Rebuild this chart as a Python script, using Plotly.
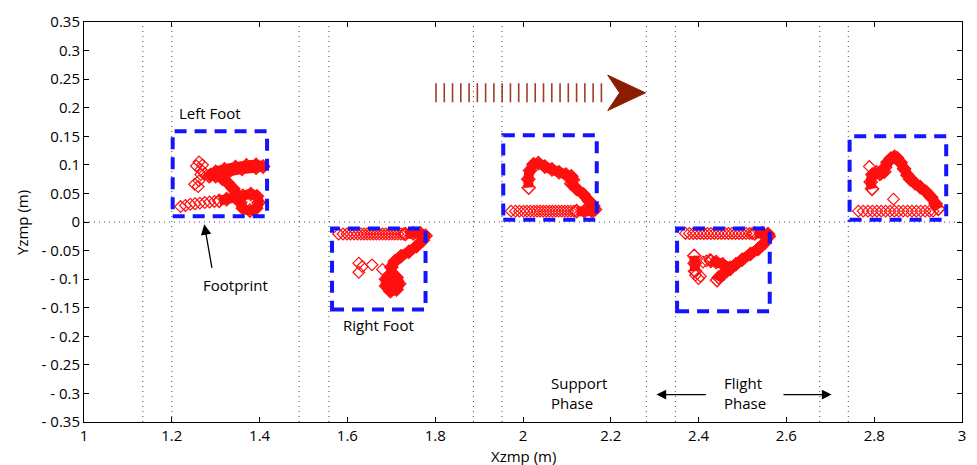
import plotly.graph_objects as go

# ---------------- data ----------------
x_ticks = [1, 1.2, 1.4, 1.6, 1.8, 2, 2.2, 2.4, 2.6, 2.8, 3]
x_tick_text = ["1", "1.2", "1.4", "1.6", "1.8", "2", "2.2", "2.4", "2.6", "2.8", "3"]
y_ticks = [0.35, 0.3, 0.25, 0.2, 0.15, 0.1, 0.05, 0, -0.05, -0.1, -0.15, -0.2, -0.25, -0.3, -0.35]
y_tick_text = ["0.35", "0.3", "0.25", "0.2", "0.15", "0.1", "0.05", "0",
               "- 0.05", "- 0.1", "- 0.15", "- 0.2", "- 0.25", "- 0.3", "- 0.35"]

phase_lines_x = [1.134, 1.200, 1.490, 1.558, 1.887, 1.952, 2.281, 2.347, 2.676, 2.741]

# footprint boxes: x0, x1, y0, y1
box_x0 = [1.202, 1.565, 1.955, 2.351, 2.744]
box_x1 = [1.417, 1.778, 2.168, 2.562, 2.964]
box_y0 = [0.010, -0.153, 0.004, -0.156, 0.004]
box_y1 = [0.159, -0.0115, 0.152, -0.0115, 0.150]

# ZMP traces - dense (thick) parts
lf1_x = [1.308, 1.325, 1.345, 1.362, 1.380, 1.394, 1.398, 1.392, 1.378, 1.362, 1.356, 1.350,
         1.340, 1.328, 1.315, 1.300, 1.288, 1.300, 1.320, 1.345, 1.370, 1.392, 1.408, 1.392,
         1.360, 1.330, 1.300, 1.285]
lf1_y = [0.037, 0.040, 0.043, 0.046, 0.049, 0.045, 0.034, 0.024, 0.020, 0.024, 0.034, 0.046,
         0.058, 0.068, 0.076, 0.080, 0.082, 0.088, 0.092, 0.096, 0.099, 0.100, 0.097, 0.095,
         0.093, 0.088, 0.083, 0.080]
lf1_dx = [1.220, 1.231, 1.242, 1.253, 1.264, 1.275, 1.286, 1.297, 1.262, 1.270, 1.266, 1.256,
          1.266, 1.275, 1.262, 1.252, 1.260]
lf1_dy = [0.027, 0.029, 0.031, 0.032, 0.033, 0.034, 0.035, 0.036, 0.105, 0.100, 0.092, 0.098,
          0.083, 0.085, 0.072, 0.066, 0.062]

rf1_x = [1.732, 1.750, 1.766, 1.778, 1.772, 1.758, 1.740, 1.722, 1.708, 1.700, 1.702, 1.712,
         1.718, 1.712, 1.698, 1.688, 1.688, 1.698, 1.708, 1.705]
rf1_y = [-0.021, -0.020, -0.020, -0.024, -0.032, -0.042, -0.052, -0.060, -0.069, -0.079, -0.090,
         -0.097, -0.108, -0.118, -0.121, -0.112, -0.100, -0.092, -0.100, -0.112]
rf1_dx = [1.580, 1.590, 1.599, 1.607, 1.615, 1.623, 1.631, 1.638, 1.645, 1.652, 1.659, 1.666,
          1.673, 1.680, 1.687, 1.694, 1.701, 1.708, 1.715, 1.722, 1.728,
          1.626, 1.634, 1.626, 1.656, 1.680]
rf1_dy = [-0.021, -0.021, -0.021, -0.021, -0.021, -0.021, -0.021, -0.021, -0.021, -0.021, -0.021,
          -0.021, -0.021, -0.021, -0.021, -0.021, -0.021, -0.021, -0.021, -0.021, -0.021,
          -0.072, -0.078, -0.088, -0.075, -0.083]

lf2_x = [2.013, 2.012, 2.016, 2.024, 2.035, 2.050, 2.066, 2.082, 2.098, 2.110, 2.114, 2.110,
         2.122, 2.138, 2.150, 2.160, 2.164, 2.158, 2.140, 2.122]
lf2_y = [0.060, 0.075, 0.090, 0.101, 0.103, 0.097, 0.092, 0.087, 0.083, 0.080, 0.074, 0.067,
         0.058, 0.048, 0.037, 0.028, 0.022, 0.019, 0.019, 0.019]
lf2_dx = [1.973, 1.983, 1.992, 2.001, 2.009, 2.017, 2.025, 2.032, 2.039, 2.046, 2.053, 2.060,
          2.067, 2.074, 2.081, 2.088, 2.095, 2.102, 2.109, 2.116]
lf2_dy = [0.019, 0.019, 0.019, 0.019, 0.019, 0.019, 0.019, 0.019, 0.019, 0.019, 0.019, 0.019,
          0.019, 0.019, 0.019, 0.019, 0.019, 0.019, 0.019, 0.019]

rf2_x = [2.528, 2.545, 2.558, 2.560, 2.551, 2.536, 2.518, 2.499, 2.485, 2.472, 2.458, 2.446,
         2.442, None, 2.472, 2.455, 2.440, 2.428, None, 2.390, 2.391, 2.392]
rf2_y = [-0.020, -0.020, -0.021, -0.025, -0.036, -0.047, -0.056, -0.066, -0.074, -0.082, -0.090,
         -0.097, -0.102, None, -0.080, -0.074, -0.070, -0.068, None, -0.059, -0.072, -0.086]
rf2_dx = [2.370, 2.379, 2.388, 2.396, 2.404, 2.412, 2.420, 2.428, 2.436, 2.444, 2.452, 2.460,
          2.468, 2.476, 2.484, 2.492, 2.500, 2.508, 2.516, 2.522,
          2.410, 2.418, 2.426, 2.393, 2.400, 2.404]
rf2_dy = [-0.020, -0.020, -0.020, -0.020, -0.020, -0.020, -0.020, -0.020, -0.020, -0.020, -0.020,
          -0.020, -0.020, -0.020, -0.020, -0.020, -0.020, -0.020, -0.020, -0.020,
          -0.070, -0.068, -0.066, -0.093, -0.099, -0.095]

lf3_x = [2.946, 2.940, 2.930, 2.918, 2.905, 2.893, 2.882, 2.876, 2.868, 2.860, 2.852, 2.846,
         2.838, 2.830, 2.825, 2.823, 2.815, 2.805, 2.796, 2.792, 2.795]
lf3_y = [0.023, 0.032, 0.043, 0.053, 0.061, 0.068, 0.075, 0.082, 0.093, 0.104, 0.112, 0.114,
         0.111, 0.104, 0.096, 0.088, 0.085, 0.087, 0.083, 0.070, 0.058]
lf3_dx = [2.764, 2.775, 2.786, 2.796, 2.806, 2.816, 2.826, 2.836, 2.846, 2.856, 2.866, 2.876,
          2.886, 2.896, 2.906, 2.916, 2.926, 2.934,
          2.789, 2.812, 2.844]
lf3_dy = [0.019, 0.019, 0.019, 0.019, 0.019, 0.019, 0.019, 0.019, 0.019, 0.019, 0.019, 0.019,
          0.019, 0.019, 0.019, 0.019, 0.019, 0.019,
          0.097, 0.083, 0.040]

# walking-direction arrow
dir_arrow_x = [1.800, 2.182]
dir_arrow_y = [0.226, 0.226]
dir_head_x = [2.193, 2.279, 2.193, 2.220, 2.193]
dir_head_y = [0.257, 0.226, 0.195, 0.226, 0.257]

RED = "rgb(255,15,15)"
BLUE = "rgb(20,20,255)"
BROWN = "rgb(140,28,0)"
FONT = "Open Sans"

fig = go.Figure()

# phase dotted lines
for xv in phase_lines_x:
    fig.add_shape(type="line", x0=xv, x1=xv, y0=-0.35, y1=0.35, xref="x", yref="y",
                  line=dict(color="rgb(70,70,70)", width=1, dash="1px,4px"), layer="below")
fig.add_shape(type="line", x0=1, x1=3, y0=0, y1=0, xref="x", yref="y",
              line=dict(color="rgb(70,70,70)", width=1, dash="1px,4px"), layer="below")

# boxes
for a, b, c, d in zip(box_x0, box_x1, box_y0, box_y1):
    fig.add_shape(type="rect", x0=a, x1=b, y0=c, y1=d, xref="x", yref="y",
                  line=dict(color=BLUE, width=4, dash="12px,8px"))

for tx, ty, dx, dy in [(lf1_x, lf1_y, lf1_dx, lf1_dy), (rf1_x, rf1_y, rf1_dx, rf1_dy),
                       (lf2_x, lf2_y, lf2_dx, lf2_dy), (rf2_x, rf2_y, rf2_dx, rf2_dy),
                       (lf3_x, lf3_y, lf3_dx, lf3_dy)]:
    fig.add_trace(go.Scatter(x=dx, y=dy, mode="markers",
                             marker=dict(symbol="diamond-open", size=9, color=RED,
                                         line=dict(width=1.2, color=RED)),
                             showlegend=False, hoverinfo="skip"))
    fig.add_trace(go.Scatter(x=tx, y=ty, mode="lines+markers",
                             line=dict(color=RED, width=10, shape="spline", smoothing=0.6),
                             marker=dict(symbol="diamond-open", size=10, color=RED,
                                         line=dict(width=1.5, color=RED)),
                             showlegend=False, hoverinfo="skip"))

# direction arrow: shaft of thin vertical strokes
fig.add_trace(go.Scatter(x=dir_arrow_x, y=dir_arrow_y, mode="lines",
                         line=dict(color=BROWN, width=19, dash="1.6px,6.67px"),
                         opacity=0.85, showlegend=False, hoverinfo="skip"))
fig.add_trace(go.Scatter(x=dir_head_x, y=dir_head_y, mode="lines", fill="toself",
                         fillcolor=BROWN, line=dict(color=BROWN, width=1),
                         showlegend=False, hoverinfo="skip"))

ann_font = dict(family=FONT, size=15, color="black")
fig.add_annotation(x=1.288, y=0.191, text="Left Foot", showarrow=False, font=ann_font)
fig.add_annotation(x=1.671, y=-0.180, text="Right Foot", showarrow=False, font=ann_font)
fig.add_annotation(x=1.345, y=-0.110, text="Footprint", showarrow=False, font=ann_font)
fig.add_annotation(x=1.274, y=-0.004, ax=1.292, ay=-0.083, axref="x", ayref="y",
                   text="", showarrow=True, arrowhead=2, arrowsize=1.6, arrowwidth=1.3,
                   arrowcolor="black")
fig.add_annotation(x=2.127, y=-0.299, text="Support<br>Phase", showarrow=False, font=ann_font,
                   align="left")
fig.add_annotation(x=2.506, y=-0.299, text="Flight<br>Phase", showarrow=False, font=ann_font,
                   align="left")
fig.add_annotation(x=2.304, y=-0.302, ax=2.420, ay=-0.302, axref="x", ayref="y",
                   text="", showarrow=True, arrowhead=2, arrowsize=1.5, arrowwidth=1.3,
                   arrowcolor="black")
fig.add_annotation(x=2.703, y=-0.302, ax=2.590, ay=-0.302, axref="x", ayref="y",
                   text="", showarrow=True, arrowhead=2, arrowsize=1.5, arrowwidth=1.3,
                   arrowcolor="black")

# axis titles
fig.add_annotation(x=0.5, y=-0.055, xref="paper", yref="paper", text="Xzmp (m)",
                   showarrow=False, font=ann_font, yanchor="top")
fig.add_annotation(x=-0.057, y=0.5, xref="paper", yref="paper", text="Yzmp (m)",
                   showarrow=False, font=ann_font, textangle=-90, xanchor="right")

fig.update_xaxes(range=[1, 3], tickvals=x_ticks, ticktext=x_tick_text, ticks="inside",
                 ticklen=5, tickcolor="black", showline=True, linecolor="black", linewidth=1,
                 mirror="ticks", showgrid=False, zeroline=False,
                 tickfont=dict(family=FONT, size=15, color="black"))
fig.update_yaxes(range=[-0.35, 0.35], tickvals=y_ticks, ticktext=y_tick_text, ticks="inside",
                 ticklen=5, tickcolor="black", showline=True, linecolor="black", linewidth=1,
                 mirror="ticks", showgrid=False, zeroline=False,
                 tickfont=dict(family=FONT, size=15, color="black"))

fig.update_layout(width=977, height=465, plot_bgcolor="white", paper_bgcolor="white",
                  margin=dict(l=84, r=11, t=15, b=43), showlegend=False)

fig.write_html("out.html", config={"displayModeBar": False},
               post_script="document.body.style.margin='0';document.body.style.overflow='hidden';")
